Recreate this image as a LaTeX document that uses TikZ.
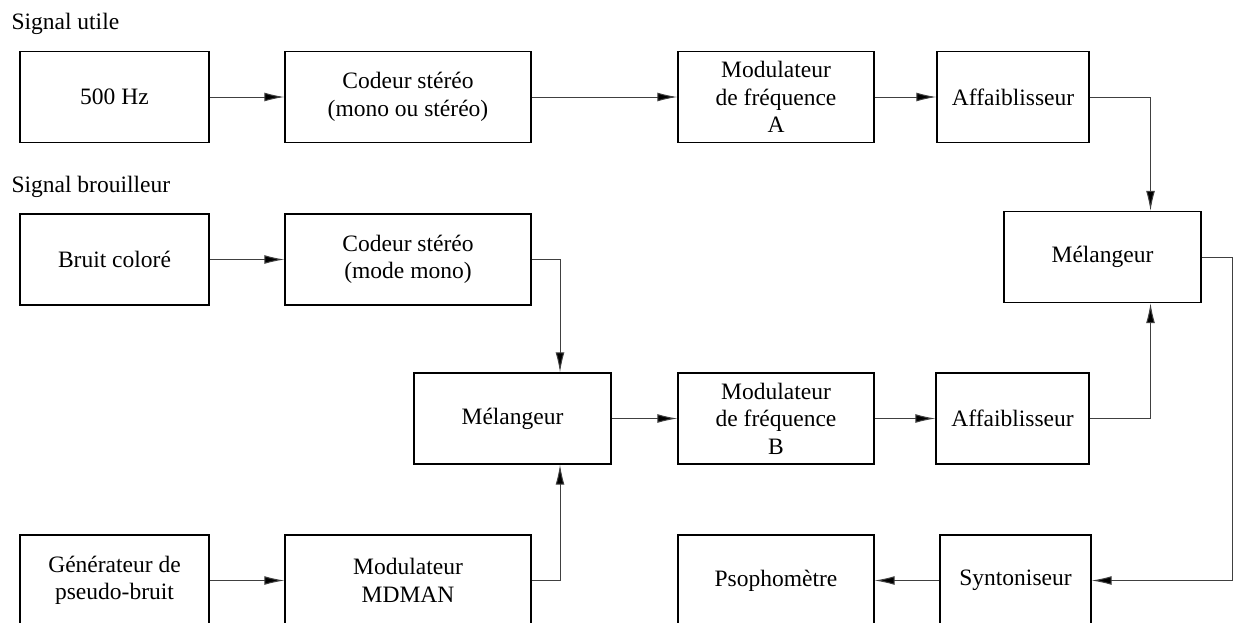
\documentclass[tikz,border=0pt]{standalone}
\usepackage{fontspec}
\setmainfont{Liberation Serif}
\usetikzlibrary{arrows.meta}
\begin{document}
\begin{tikzpicture}[x=0.5pt,y=-0.5pt,line width=0.5pt,
    bloc/.style={draw,line width=0.6pt,inner sep=0pt,align=center,minimum height=45.5pt,font=\fontsize{11.75}{13.75}\selectfont},
    titre/.style={anchor=base west,inner sep=0pt,font=\fontsize{11.75}{13.75}\selectfont},
    fl/.style={draw=black!75,-{Latex[length=10pt,width=4.4pt,fill=black]}}]
    \clip (0,0) rectangle (1234,622);
    \node[titre] (tu) at (11,29) {Signal utile};
    \node[titre] (tb) at (11,192) {Signal brouilleur};
    % ligne du signal utile
    \node[bloc,minimum width=94.5pt] (hz) at (114.5,97) {500 Hz};
    \node[bloc,minimum width=123pt] (codA) at (408,97) {Codeur stéréo\\(mono ou stéréo)};
    \node[bloc,minimum width=98pt] (modA) at (776,97) {Modulateur\\de fréquence\\A};
    \node[bloc,minimum width=76pt] (affA) at (1013,97) {Affaiblisseur};
    \node[bloc,minimum width=98.5pt] (melR) at (1102.5,257) {Mélangeur};
    % ligne du signal brouilleur
    \node[bloc,minimum width=94.5pt] (bruit) at (114.5,259.5) {Bruit coloré};
    \node[bloc,minimum width=123pt] (codB) at (408,259.5) {Codeur stéréo\\(mode mono)};
    \node[bloc,minimum width=98.5pt] (melM) at (512.5,418.5) {Mélangeur};
    \node[bloc,minimum width=98pt] (modB) at (776,418.5) {Modulateur\\de fréquence\\B};
    \node[bloc,minimum width=76.5pt] (affB) at (1012.5,418.5) {Affaiblisseur};
    \node[bloc,minimum width=94.5pt] (gen) at (114.5,580.5) {Générateur de\\pseudo-bruit};
    \node[bloc,minimum width=123pt] (mdman) at (408,580.5) {Modulateur\\MDMAN};
    \node[bloc,minimum width=98pt] (pso) at (776,580.5) {Psophomètre};
    \node[bloc,minimum width=75.5pt] (synt) at (1015.5,580.5) {Syntoniseur};
    \coordinate (jM) at (560,0);
    \coordinate (jR) at (1150.5,0);
    \coordinate (bord) at (1232,0);
    % liaisons
    \draw[fl] (hz) -- (codA);
    \draw[fl] (codA) -- (modA);
    \draw[fl] (modA) -- (affA);
    \draw[fl] (affA.east) -| (jR |- melR.north);
    \draw[fl] (melR.east) -| (bord |- synt.east) -- (synt.east);
    \draw[fl] (synt) -- (pso);
    \draw[fl] (bruit) -- (codB);
    \draw[fl] (codB.east) -| (jM |- melM.north);
    \draw[fl] (gen) -- (mdman);
    \draw[fl] (mdman.east) -| (jM |- melM.south);
    \draw[fl] (melM) -- (modB);
    \draw[fl] (modB) -- (affB);
    \draw[fl] (affB.east) -| (jR |- melR.south);
\end{tikzpicture}
\end{document}
